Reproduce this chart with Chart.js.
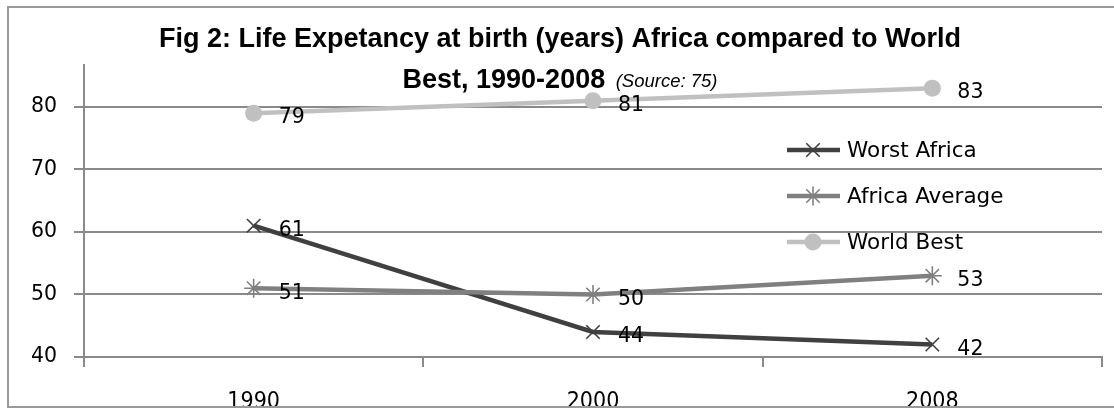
<!DOCTYPE html>
<html lang="en">
<head>
  <meta charset="UTF-8">
  <script src="https://cdn.jsdelivr.net/npm/chart.js"></script>
  <title>Life expectancy Africa vs World Best</title>
  <style>
    body { margin: 0; background: #fff; }
    #wrap { width: 1114px; height: 411px; position: relative; }
  </style>
</head>
<body>
<div id="wrap"><canvas id="myChart"></canvas></div>

<script>
  // data
  const categories = ['1990', '2000', '2008'];
  const worstAfrica = [61, 44, 42];
  const africaAverage = [51, 50, 53];
  const worldBest = [79, 81, 83];
  const seriesNames = ['Worst Africa', 'Africa Average', 'World Best'];
  const yTicks = [40, 50, 60, 70, 80];

  const titleLine1 = 'Fig 2: Life Expetancy at birth (years) Africa compared to World';
  const titleLine2 = 'Best, 1990-2008';
  const titleSource = '(Source: 75)';

  const gridColor = '#8a8a8a';
  const labelFont = '20.5px "DejaVu Sans"';

  function drawMarker(ctx, style, x, y, r, color) {
    ctx.save();
    ctx.strokeStyle = color;
    ctx.fillStyle = color;
    ctx.lineWidth = 1.6;
    ctx.beginPath();
    if (style === 'circle') {
      ctx.arc(x, y, r, 0, Math.PI * 2);
      ctx.fill();
    } else {
      const d = r * Math.SQRT1_2;
      ctx.moveTo(x - d, y - d); ctx.lineTo(x + d, y + d);
      ctx.moveTo(x - d, y + d); ctx.lineTo(x + d, y - d);
      if (style === 'star') {
        ctx.moveTo(x, y - r); ctx.lineTo(x, y + r);
      }
      ctx.stroke();
    }
    ctx.restore();
  }

  // title, data labels, legend and frame
  const decorations = {
    id: 'decorations',
    afterDatasetsDraw(chart) {
      const ctx = chart.ctx;
      ctx.save();
      ctx.font = labelFont;
      ctx.fillStyle = '#000';
      ctx.textBaseline = 'middle';
      ctx.textAlign = 'left';
      chart.data.datasets.forEach((ds, i) => {
        chart.getDatasetMeta(i).data.forEach((pt, j) => {
          ctx.fillText(String(ds.data[j]), pt.x + 25, pt.y + 5);
        });
      });
      ctx.restore();
    },
    afterDraw(chart) {
      const ctx = chart.ctx;
      ctx.save();

      // legend inside plot
      const rows = [150, 196, 242];
      chart.data.datasets.forEach((ds, i) => {
        const y = rows[i];
        ctx.strokeStyle = ds.borderColor;
        ctx.lineWidth = ds.borderWidth;
        ctx.beginPath();
        ctx.moveTo(787, y);
        ctx.lineTo(840, y);
        ctx.stroke();
        drawMarker(ctx, ds.pointStyle, 813, y, ds.pointRadius, ds.borderColor);
        ctx.font = '21.5px "DejaVu Sans"';
        ctx.fillStyle = '#000';
        ctx.textBaseline = 'middle';
        ctx.textAlign = 'left';
        ctx.fillText(seriesNames[i], 847, y + 1);
      });

      // title
      ctx.fillStyle = '#000';
      ctx.textBaseline = 'alphabetic';
      ctx.textAlign = 'left';
      const cx = 560;
      ctx.font = 'bold 27px "Liberation Sans"';
      const w1 = ctx.measureText(titleLine1).width;
      ctx.fillText(titleLine1, cx - w1 / 2, 47);
      const w2 = ctx.measureText(titleLine2 + ' ').width;
      ctx.font = 'italic 18.5px "Liberation Sans"';
      const w3 = ctx.measureText(titleSource).width;
      const x2 = cx - (w2 + 3 + w3) / 2;
      ctx.font = 'bold 27px "Liberation Sans"';
      ctx.fillText(titleLine2, x2, 88);
      ctx.font = 'italic 18.5px "Liberation Sans"';
      ctx.fillText(titleSource, x2 + w2 + 3, 87);

      // outer frame, labels clipped at the bottom edge
      ctx.fillStyle = '#fff';
      ctx.fillRect(0, 408, chart.width, 10);
      ctx.strokeStyle = '#999';
      ctx.lineWidth = 2;
      ctx.strokeRect(8, 7, 1120, 400);
      ctx.restore();
    }
  };

  const ctx = document.getElementById('myChart');
  new Chart(ctx, {
    type: 'line',
    data: {
      labels: categories,
      datasets: [{
        label: seriesNames[0],
        data: worstAfrica,
        borderColor: '#404040',
        backgroundColor: '#404040',
        borderWidth: 4.5,
        pointStyle: 'crossRot',
        pointRadius: 9.5,
        pointBorderWidth: 1.6,
        order: 3
      }, {
        label: seriesNames[1],
        data: africaAverage,
        borderColor: '#808080',
        backgroundColor: '#808080',
        borderWidth: 4.5,
        pointStyle: 'star',
        pointRadius: 9.5,
        pointBorderWidth: 1.6,
        order: 2
      }, {
        label: seriesNames[2],
        data: worldBest,
        borderColor: '#c0c0c0',
        backgroundColor: '#c0c0c0',
        borderWidth: 4.5,
        pointStyle: 'circle',
        pointRadius: 8.5,
        pointBorderWidth: 0,
        order: 1
      }]
    },
    options: {
      responsive: true,
      maintainAspectRatio: false,
      animation: false,
      events: [],
      layout: { padding: { top: 65, right: 12, left: 0, bottom: 0 } },
      elements: { line: { tension: 0 } },
      plugins: {
        legend: { display: false },
        title: { display: false },
        tooltip: { enabled: false }
      },
      scales: {
        x: {
          type: 'category',
          offset: true,
          grid: { offset: true, drawOnChartArea: false, tickLength: 10, color: gridColor, lineWidth: 2 },
          border: { color: gridColor, width: 2 },
          ticks: { font: { family: '"DejaVu Sans Condensed", "DejaVu Sans"', size: 23 }, color: '#000', padding: 21, maxRotation: 0, autoSkip: false },
          afterFit(scale) { scale.height = 54; }
        },
        y: {
          min: 40,
          max: 86.7,
          afterBuildTicks(scale) { scale.ticks = yTicks.map(v => ({ value: v })); },
          grid: { tickLength: 10, color: gridColor, lineWidth: 2 },
          border: { color: gridColor, width: 2 },
          ticks: { font: { family: 'DejaVu Sans', size: 20.5 }, color: '#000', padding: 17 },
          afterFit(scale) { scale.width = 84; }
        }
      }
    },
    plugins: [decorations]
  });
</script>
</body>
</html>
